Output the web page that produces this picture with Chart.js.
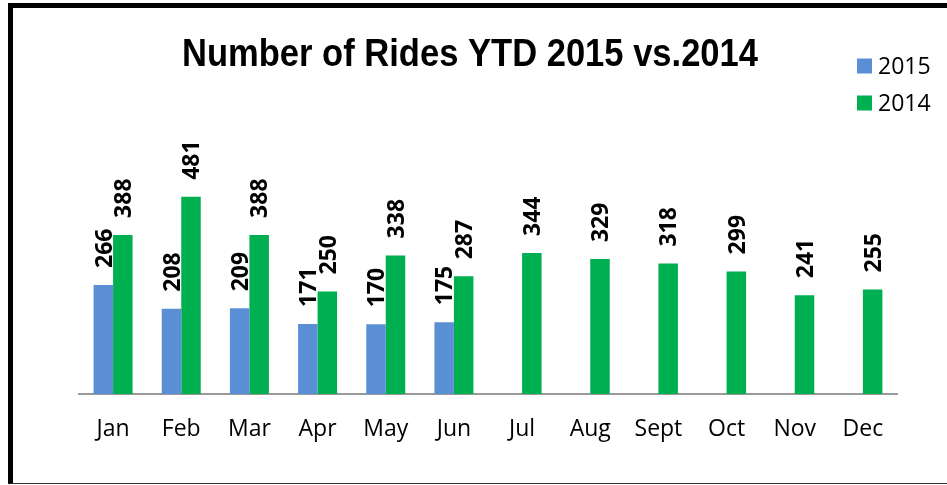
<!DOCTYPE html>
<html>
<head>
<meta charset="utf-8">
<title>Number of Rides YTD 2015 vs.2014</title>
<script src="https://cdn.jsdelivr.net/npm/chart.js@4.4.1/dist/chart.umd.min.js"></script>
<style>
    html, body { margin: 0; padding: 0; background: #fff; overflow: hidden; }
    #wrap { position: absolute; left: 0; top: 0; width: 947px; height: 485px; }
    #frame {
        position: absolute; left: 8px; top: 3px; width: 960px; height: 475px;
        border-left: 5px solid #000; border-top: 5px solid #000; border-bottom: 1px solid #333;
        pointer-events: none;
    }
</style>
</head>
<body>
<div id="wrap"><canvas id="myChart" width="947" height="485"></canvas></div>
<div id="frame"></div>
<script>
const months = ['Jan', 'Feb', 'Mar', 'Apr', 'May', 'Jun', 'Jul', 'Aug', 'Sept', 'Oct', 'Nov', 'Dec'];
const rides2015 = [266, 208, 209, 171, 170, 175, null, null, null, null, null, null];
const rides2014 = [388, 481, 388, 250, 338, 287, 344, 329, 318, 299, 241, 255];
const chartTitle = 'Number of Rides YTD 2015 vs.2014';

const BLUE = '#5a8fd6';
const GREEN = '#00b050';

// title, legend and rotated value labels drawn by hand
const extrasPlugin = {
    id: 'extras',
    afterDraw(chart) {
        const ctx = chart.ctx;
        ctx.save();

        // title (narrow look: squeeze a bold sans to the original width)
        ctx.fillStyle = '#000';
        ctx.font = 'bold 39px "Liberation Sans", Arial, sans-serif';
        ctx.textAlign = 'center';
        ctx.textBaseline = 'alphabetic';
        const w = ctx.measureText(chartTitle).width;
        ctx.save();
        ctx.translate(470, 66);
        ctx.scale(576 / w, 1);
        ctx.fillText(chartTitle, 0, 0);
        ctx.restore();

        // legend
        ctx.font = '23px "Open Sans", sans-serif';
        ctx.textAlign = 'left';
        ctx.textBaseline = 'middle';
        chart.data.datasets.forEach((ds, i) => {
            const y = 66 + i * 37;
            ctx.fillStyle = ds.backgroundColor;
            ctx.fillRect(857, y - 7.5, 15, 15);
            ctx.fillStyle = '#000';
            ctx.fillText(ds.label, 878, y + 1);
        });

        // value labels
        const size = 23;
        ctx.font = 'bold ' + size + 'px "Open Sans", sans-serif';
        ctx.textBaseline = 'alphabetic';
        chart.data.datasets.forEach((ds, i) => {
            chart.getDatasetMeta(i).data.forEach((bar, j) => {
                const v = ds.data[j];
                if (v === null || v === undefined) return;
                ctx.save();
                ctx.translate(bar.x, bar.y - 17);
                ctx.rotate(-Math.PI / 2);
                ctx.fillText(String(v), 0, size * 0.36);
                ctx.restore();
            });
        });
        ctx.restore();
    }
};

const ctx = document.getElementById('myChart').getContext('2d');
const myChart = new Chart(ctx, {
    type: 'bar',
    data: {
        labels: months,
        datasets: [{
            label: '2015',
            data: rides2015,
            backgroundColor: BLUE
        }, {
            label: '2014',
            data: rides2014,
            backgroundColor: GREEN
        }]
    },
    options: {
        responsive: false,
        animation: false,
        categoryPercentage: 0.572,
        barPercentage: 1,
        layout: {
            padding: { left: 79, right: 50, top: 148, bottom: 0 }
        },
        plugins: {
            legend: { display: false },
            title: { display: false },
            tooltip: { enabled: false }
        },
        scales: {
            x: {
                grid: { display: false },
                border: { display: true, color: '#9a9a9a', width: 2 },
                ticks: {
                    color: '#000',
                    padding: 14,
                    font: { family: '"Open Sans", sans-serif', size: 23 }
                },
                afterFit: (scale) => { scale.height = 91; }
            },
            y: {
                display: false,
                min: 0,
                max: 600
            }
        }
    },
    plugins: [extrasPlugin]
});
</script>
</body>
</html>
